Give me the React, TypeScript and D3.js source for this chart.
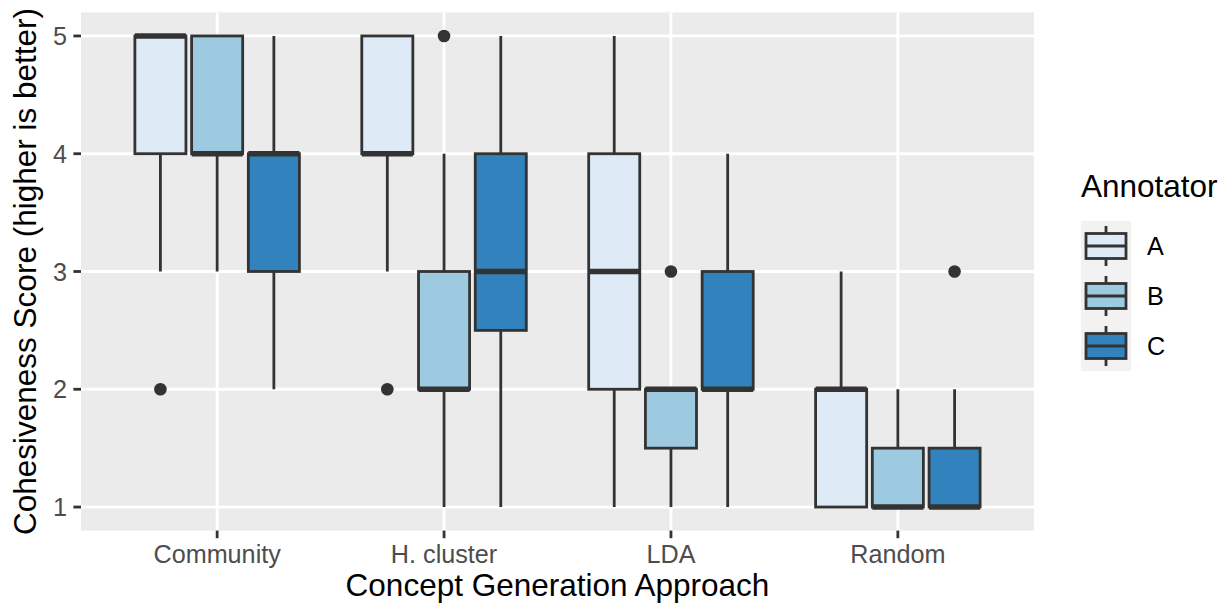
import React from "react";
import * as d3 from "d3";

const categories = ["Community", "H. cluster", "LDA", "Random"];
const annotators = ["A", "B", "C"];
const fillColors = ["#DEEBF7", "#9ECAE1", "#3182BD"];
const yTicks = [1, 2, 3, 4, 5];

// [category][annotator]
const lowerWhisker = [[3, 3, 2], [3, 1, 1], [1, 1, 1], [1, 1, 1]];
const q1 = [[4, 4, 3], [4, 2, 2.5], [2, 1.5, 2], [1, 1, 1]];
const median = [[5, 4, 4], [4, 2, 3], [3, 2, 2], [2, 1, 1]];
const q3 = [[5, 5, 4], [5, 3, 4], [4, 2, 3], [2, 1.5, 1.5]];
const upperWhisker = [[5, 5, 5], [5, 4, 5], [5, 2, 4], [3, 2, 2]];
const outliers = [[[2], [], []], [[2], [5], []], [[], [3], []], [[], [], [3]]];

const W = 1220, H = 603;
const panel = { left: 81, right: 1034, top: 12.4, bottom: 530.6 };
const INK = "#333333";
const LW = 2.8;
const FONT = "'Liberation Sans', Arial, Helvetica, sans-serif";
const TICK_FS = 25.2;
const TITLE_FS = 31.5;

export default function App() {
  const x = d3.scaleBand<string>().domain(categories).range([panel.left, panel.right]).paddingInner(0).paddingOuter(0.1);
  const step = x.step();
  const dodge = d3.scaleBand<string>().domain(annotators).range([-0.375 * step, 0.375 * step]);
  const boxW = dodge.bandwidth() * 0.9;
  const y = d3.scaleLinear().domain([0.8, 5.2]).range([panel.bottom, panel.top]);
  const cx = (c: string) => (x(c) as number) + x.bandwidth() / 2;

  const boxes: React.ReactNode[] = [];
  categories.forEach((c, ci) => {
    annotators.forEach((a, ai) => {
      const mx = cx(c) + (dodge(a) as number) + dodge.bandwidth() / 2;
      const x0 = mx - boxW / 2;
      boxes.push(
        <g key={c + a}>
          <line x1={mx} x2={mx} y1={y(upperWhisker[ci][ai])} y2={y(q3[ci][ai])} stroke={INK} strokeWidth={LW} />
          <line x1={mx} x2={mx} y1={y(q1[ci][ai])} y2={y(lowerWhisker[ci][ai])} stroke={INK} strokeWidth={LW} />
          <rect x={x0} width={boxW} y={y(q3[ci][ai])} height={y(q1[ci][ai]) - y(q3[ci][ai])} fill={fillColors[ai]} stroke={INK} strokeWidth={LW} />
          <line x1={x0} x2={x0 + boxW} y1={y(median[ci][ai])} y2={y(median[ci][ai])} stroke={INK} strokeWidth={LW * 2} />
          {outliers[ci][ai].map((v, k) => (
            <circle key={k} cx={mx} cy={y(v)} r={6.3} fill={INK} />
          ))}
        </g>
      );
    });
  });

  const legendX = 1081, legendY = 221, key = 50;

  return (
    <svg width={W} height={H} style={{ position: "absolute", left: 0, top: 0, background: "#fff" }} fontFamily={FONT}>
      <rect x={panel.left} y={panel.top} width={panel.right - panel.left} height={panel.bottom - panel.top} fill="#EBEBEB" />
      {yTicks.map((t) => (
        <line key={"gy" + t} x1={panel.left} x2={panel.right} y1={y(t)} y2={y(t)} stroke="#fff" strokeWidth={LW} />
      ))}
      {categories.map((c) => (
        <line key={"gx" + c} x1={cx(c)} x2={cx(c)} y1={panel.top} y2={panel.bottom} stroke="#fff" strokeWidth={LW} />
      ))}
      {boxes}
      {/* y axis */}
      {yTicks.map((t) => (
        <g key={"ty" + t}>
          <line x1={panel.left - 7.6} x2={panel.left} y1={y(t)} y2={y(t)} stroke={INK} strokeWidth={LW} />
          <text x={panel.left - 14} y={y(t)} dy="0.36em" textAnchor="end" fontSize={TICK_FS} fill="#4D4D4D">{t}</text>
        </g>
      ))}
      {/* x axis */}
      {categories.map((c) => (
        <g key={"tx" + c}>
          <line x1={cx(c)} x2={cx(c)} y1={panel.bottom} y2={panel.bottom + 7.6} stroke={INK} strokeWidth={LW} />
          <text x={cx(c)} y={562.5} textAnchor="middle" fontSize={TICK_FS} fill="#4D4D4D">{c}</text>
        </g>
      ))}
      <text x={(panel.left + panel.right) / 2} y={596} textAnchor="middle" fontSize={TITLE_FS} fill="#000">Concept Generation Approach</text>
      <text transform={`translate(36,${(panel.top + panel.bottom) / 2}) rotate(-90)`} textAnchor="middle" fontSize={TITLE_FS} fill="#000">Cohesiveness Score (higher is better)</text>
      {/* legend */}
      <text x={1081} y={197} fontSize={TITLE_FS} fill="#000">Annotator</text>
      {annotators.map((a, i) => {
        const ky = legendY + i * key;
        const kx = legendX;
        const mid = kx + key / 2;
        return (
          <g key={"lg" + a}>
            <rect x={kx} y={ky} width={key} height={key} fill="#F2F2F2" />
            <line x1={mid} x2={mid} y1={ky + key * 0.1} y2={ky + key * 0.9} stroke={INK} strokeWidth={LW} />
            <rect x={kx + key * 0.1} y={ky + key * 0.25} width={key * 0.8} height={key * 0.5} fill={fillColors[i]} stroke={INK} strokeWidth={LW} />
            <line x1={kx + key * 0.1} x2={kx + key * 0.9} y1={ky + key / 2} y2={ky + key / 2} stroke={INK} strokeWidth={LW} />
            <text x={1147} y={ky + key / 2} dy="0.36em" fontSize={TICK_FS} fill="#000">{a}</text>
          </g>
        );
      })}
    </svg>
  );
}
